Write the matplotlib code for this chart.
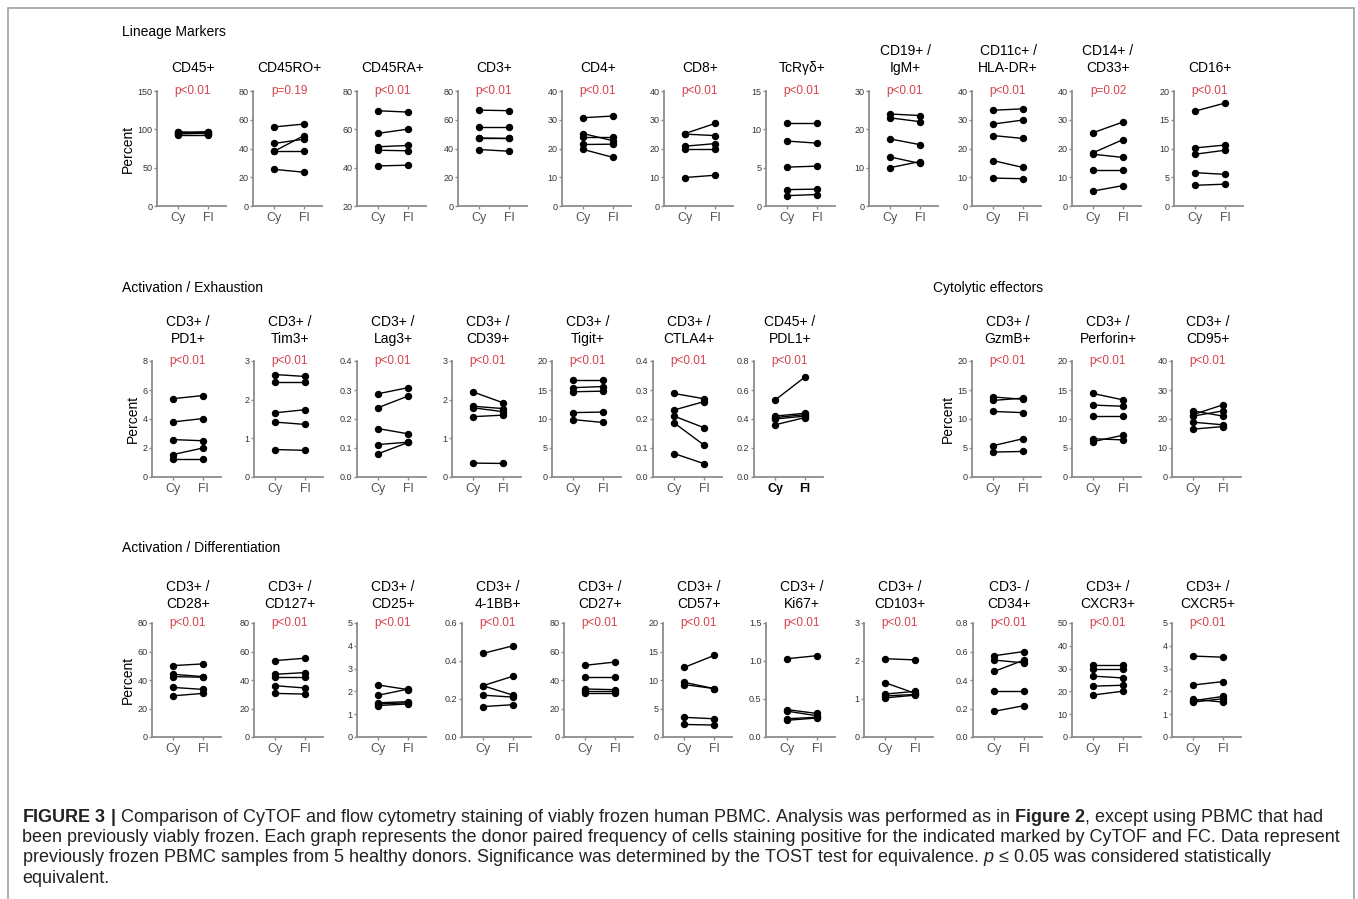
import matplotlib
matplotlib.use('Agg')
import matplotlib.pyplot as plt
from matplotlib.patches import Rectangle

plt.rcParams['font.family'] = ['Liberation Sans', 'DejaVu Sans']
plt.rcParams['mathtext.fontset'] = 'custom'
plt.rcParams['mathtext.rm'] = 'Liberation Sans'
plt.rcParams['mathtext.bf'] = 'Liberation Sans:bold'
plt.rcParams['mathtext.it'] = 'Liberation Sans:italic'

# ---- data (percent of cells, 5 donors: CyTOF vs flow) ----
# Lineage markers
cd45_cy = [97, 95, 94, 93, 96]
cd45_fl = [94, 96, 95, 93, 97]
cd45ro_cy = [55, 43.5, 38, 38, 25.5]
cd45ro_fl = [57, 46.5, 49, 38, 23.5]
cd45ra_cy = [69.7, 57.9, 50.9, 49.1, 40.9]
cd45ra_fl = [69.0, 60.1, 51.6, 48.8, 41.3]
cd3_cy = [66.7, 54.7, 47.3, 47.0, 39.3]
cd3_fl = [66.3, 54.7, 47.0, 47.0, 38.1]
cd4_cy = [30.7, 25.2, 24.1, 21.4, 19.7]
cd4_fl = [31.3, 22.7, 24.1, 21.5, 16.9]
cd8_cy = [25.2, 25.0, 20.8, 20.0, 9.9]
cd8_fl = [28.7, 24.5, 21.7, 20.0, 10.7]
tcrgd_cy = [10.8, 8.47, 5.07, 2.14, 1.35]
tcrgd_fl = [10.8, 8.2, 5.2, 2.2, 1.5]
cd19_cy = [24.0, 23.0, 17.5, 12.8, 10.0]
cd19_fl = [23.6, 22.0, 16.0, 11.1, 11.6]
cd11c_cy = [33.3, 28.5, 24.5, 15.8, 9.7]
cd11c_fl = [33.8, 29.9, 23.5, 13.4, 9.5]
cd14_cy = [25.5, 18.5, 18.0, 12.4, 5.2]
cd14_fl = [29.2, 23.1, 16.9, 12.4, 7.1]
cd16_cy = [16.5, 10.1, 9.0, 5.8, 3.6]
cd16_fl = [17.9, 10.6, 9.7, 5.5, 3.8]

# Activation / exhaustion
pd1_cy = [5.4, 3.8, 2.58, 1.55, 1.22]
pd1_fl = [5.62, 4.03, 2.5, 2.0, 1.22]
tim3_cy = [2.65, 2.45, 1.66, 1.42, 0.71]
tim3_fl = [2.6, 2.45, 1.74, 1.36, 0.69]
lag3_cy = [0.287, 0.239, 0.167, 0.112, 0.08]
lag3_fl = [0.308, 0.279, 0.149, 0.12, 0.119]
cd39_cy = [2.2, 1.83, 1.79, 1.56, 0.36]
cd39_fl = [1.92, 1.77, 1.69, 1.6, 0.35]
tigit_cy = [16.8, 15.4, 14.7, 11.1, 9.9]
tigit_fl = [16.8, 15.6, 14.8, 11.2, 9.4]
ctla4_cy = [0.288, 0.231, 0.21, 0.187, 0.081]
ctla4_fl = [0.27, 0.26, 0.17, 0.11, 0.046]
pdl1_cy = [0.53, 0.42, 0.41, 0.40, 0.36]
pdl1_fl = [0.69, 0.44, 0.43, 0.42, 0.41]

# Cytolytic effectors
gzmb_cy = [13.8, 13.2, 11.3, 5.4, 4.3]
gzmb_fl = [13.4, 13.6, 11.1, 6.6, 4.4]
perforin_cy = [14.4, 12.4, 10.6, 6.6, 6.1]
perforin_fl = [13.3, 12.2, 10.6, 6.4, 7.2]
cd95_cy = [22.8, 21.5, 21.0, 18.9, 16.5]
cd95_fl = [21.0, 24.9, 22.8, 18.0, 17.4]

# Activation / differentiation
cd28_cy = [50.1, 44.0, 42.4, 34.8, 28.9]
cd28_fl = [51.3, 42.4, 41.9, 33.4, 30.6]
cd127_cy = [53.6, 44.0, 42.4, 36.0, 30.6]
cd127_fl = [55.3, 45.2, 42.4, 34.4, 30.1]
cd25_cy = [2.28, 1.83, 1.5, 1.45, 1.38]
cd25_fl = [2.08, 2.1, 1.55, 1.5, 1.45]
bb41_cy = [0.44, 0.27, 0.27, 0.22, 0.16]
bb41_fl = [0.48, 0.32, 0.22, 0.21, 0.17]
cd27_cy = [50.3, 42.1, 33.7, 32.0, 30.9]
cd27_fl = [52.6, 42.1, 33.2, 32.0, 30.9]
cd57_cy = [12.2, 9.6, 9.2, 3.45, 2.2]
cd57_fl = [14.3, 8.5, 8.5, 3.2, 2.1]
ki67_cy = [1.03, 0.36, 0.34, 0.24, 0.22]
ki67_fl = [1.07, 0.31, 0.28, 0.26, 0.25]
cd103_cy = [2.06, 1.43, 1.13, 1.08, 1.03]
cd103_fl = [2.03, 1.15, 1.2, 1.12, 1.1]
cd34_cy = [0.57, 0.54, 0.46, 0.32, 0.18]
cd34_fl = [0.60, 0.52, 0.54, 0.32, 0.22]
cxcr3_cy = [31.6, 29.9, 26.7, 22.3, 18.4]
cxcr3_fl = [31.6, 29.9, 25.9, 22.7, 20.1]
cxcr5_cy = [3.55, 2.28, 1.66, 1.59, 1.53]
cxcr5_fl = [3.5, 2.43, 1.53, 1.78, 1.68]

# y axes
t150 = [0, 50, 100, 150]
t80 = [0, 20, 40, 60, 80]
t2080 = [20, 40, 60, 80]
t40 = [0, 10, 20, 30, 40]
t30 = [0, 10, 20, 30]
t20 = [0, 5, 10, 15, 20]
t15 = [0, 5, 10, 15]
t8 = [0, 2, 4, 6, 8]
t3 = [0, 1, 2, 3]
t04 = [0.0, 0.1, 0.2, 0.3, 0.4]
t08 = [0.0, 0.2, 0.4, 0.6, 0.8]
t06 = [0.0, 0.2, 0.4, 0.6]
t5 = [0, 1, 2, 3, 4, 5]
t50 = [0, 10, 20, 30, 40, 50]
t1_5 = [0.0, 0.5, 1.0, 1.5]

row1 = [
    ('CD45+', 'p<0.01', cd45_cy, cd45_fl, t150, '{:.0f}'),
    ('CD45RO+', 'p=0.19', cd45ro_cy, cd45ro_fl, t80, '{:.0f}'),
    ('CD45RA+', 'p<0.01', cd45ra_cy, cd45ra_fl, t2080, '{:.0f}'),
    ('CD3+', 'p<0.01', cd3_cy, cd3_fl, t80, '{:.0f}'),
    ('CD4+', 'p<0.01', cd4_cy, cd4_fl, t40, '{:.0f}'),
    ('CD8+', 'p<0.01', cd8_cy, cd8_fl, t40, '{:.0f}'),
    ('TcRγδ+', 'p<0.01', tcrgd_cy, tcrgd_fl, t15, '{:.0f}'),
    ('CD19+ /\nIgM+', 'p<0.01', cd19_cy, cd19_fl, t30, '{:.0f}'),
    ('CD11c+ /\nHLA-DR+', 'p<0.01', cd11c_cy, cd11c_fl, t40, '{:.0f}'),
    ('CD14+ /\nCD33+', 'p=0.02', cd14_cy, cd14_fl, t40, '{:.0f}'),
    ('CD16+', 'p<0.01', cd16_cy, cd16_fl, t20, '{:.0f}'),
]
row2 = [
    ('CD3+ /\nPD1+', 'p<0.01', pd1_cy, pd1_fl, t8, '{:.0f}'),
    ('CD3+ /\nTim3+', 'p<0.01', tim3_cy, tim3_fl, t3, '{:.0f}'),
    ('CD3+ /\nLag3+', 'p<0.01', lag3_cy, lag3_fl, t04, '{:.1f}'),
    ('CD3+ /\nCD39+', 'p<0.01', cd39_cy, cd39_fl, t3, '{:.0f}'),
    ('CD3+ /\nTigit+', 'p<0.01', tigit_cy, tigit_fl, t20, '{:.0f}'),
    ('CD3+ /\nCTLA4+', 'p<0.01', ctla4_cy, ctla4_fl, t04, '{:.1f}'),
    ('CD45+ /\nPDL1+', 'p<0.01', pdl1_cy, pdl1_fl, t08, '{:.1f}'),
    ('CD3+ /\nGzmB+', 'p<0.01', gzmb_cy, gzmb_fl, t20, '{:.0f}'),
    ('CD3+ /\nPerforin+', 'p<0.01', perforin_cy, perforin_fl, t20, '{:.0f}'),
    ('CD3+ /\nCD95+', 'p<0.01', cd95_cy, cd95_fl, t40, '{:.0f}'),
]
row3 = [
    ('CD3+ /\nCD28+', 'p<0.01', cd28_cy, cd28_fl, t80, '{:.0f}'),
    ('CD3+ /\nCD127+', 'p<0.01', cd127_cy, cd127_fl, t80, '{:.0f}'),
    ('CD3+ /\nCD25+', 'p<0.01', cd25_cy, cd25_fl, t5, '{:.0f}'),
    ('CD3+ /\n4-1BB+', 'p<0.01', bb41_cy, bb41_fl, t06, '{:.1f}'),
    ('CD3+ /\nCD27+', 'p<0.01', cd27_cy, cd27_fl, t80, '{:.0f}'),
    ('CD3+ /\nCD57+', 'p<0.01', cd57_cy, cd57_fl, t20, '{:.0f}'),
    ('CD3+ /\nKi67+', 'p<0.01', ki67_cy, ki67_fl, t1_5, '{:.1f}'),
    ('CD3+ /\nCD103+', 'p<0.01', cd103_cy, cd103_fl, t3, '{:.0f}'),
    ('CD3- /\nCD34+', 'p<0.01', cd34_cy, cd34_fl, t08, '{:.1f}'),
    ('CD3+ /\nCXCR3+', 'p<0.01', cxcr3_cy, cxcr3_fl, t50, '{:.0f}'),
    ('CD3+ /\nCXCR5+', 'p<0.01', cxcr5_cy, cxcr5_fl, t5, '{:.0f}'),
]

# ---- layout in pixels ----
W, H = 1358, 899
RED = '#d4434e'
GREY = '#8c8c8c'
row1_x = [178, 274, 378, 479, 583, 685, 787, 890, 993, 1093, 1195]
row2_x = [173, 275, 378, 473, 573, 674, 775, 993, 1093, 1193]
row3_x = [173, 275, 378, 483, 585, 684, 787, 885, 994, 1093, 1193]
rows = [(row1, row1_x, 91, 206, 72, [0]),
        (row2, row2_x, 361, 477, 343, [0, 7]),
        (row3, row3_x, 623, 737, 608, [0])]

fig = plt.figure(figsize=(W / 100, H / 100), dpi=100)


def draw_panel(cx, top, bottom, base, spec, percent):
    title, pval, cy, fl, ticks, fmt = spec
    ax = fig.add_axes([(cx - 21) / W, 1 - bottom / H, 69 / W, (bottom - top) / H])
    for a, b in zip(cy, fl):
        ax.plot([0, 1], [a, b], color='black', lw=1, marker='o', ms=4.3,
                clip_on=False)
    ax.set_xlim(-0.7, 1.6)
    ax.set_ylim(ticks[0], ticks[-1])
    ax.set_yticks(ticks)
    ax.set_yticklabels([fmt.format(t) for t in ticks])
    ax.set_xticks([0, 1])
    ax.set_xticklabels(['Cy', 'Fl'])
    for s in ['top', 'right']:
        ax.spines[s].set_visible(False)
    for s in ['left', 'bottom']:
        ax.spines[s].set_color(GREY)
        ax.spines[s].set_linewidth(1.3)
    ax.tick_params(axis='y', length=2.5, width=1, color=GREY, pad=0.8,
                   labelsize=6.5, labelcolor='#333333')
    ax.tick_params(axis='x', length=2.5, width=1, color=GREY, pad=1.5,
                   labelsize=9, labelcolor='#555555')
    if title.startswith('CD45+ /'):
        for lab in ax.get_xticklabels():
            lab.set_fontweight('bold')
            lab.set_color('black')
    ax.text(0.5, ticks[-1], pval, color=RED, fontsize=8.5, ha='center', va='center')
    fig.text((cx + 15) / W, 1 - base / H, title, ha='center', va='baseline',
             fontsize=10, linespacing=1.3, multialignment='center')
    if percent:
        ax.set_ylabel('Percent', fontsize=10, labelpad=2)


for specs, xs, top, bottom, base, pct in rows:
    for i, (spec, cx) in enumerate(zip(specs, xs)):
        draw_panel(cx, top, bottom, base, spec, i in pct)

# section headers
for txt, x, y in [('Lineage Markers', 122, 32),
                  ('Activation / Exhaustion', 122, 288),
                  ('Cytolytic effectors', 933, 288),
                  ('Activation / Differentiation', 122, 548)]:
    fig.text(x / W, 1 - y / H, txt, fontsize=10, ha='left', va='center')

# caption
caption = [
    r'$\bf{FIGURE\ 3\ |}$ Comparison of CyTOF and flow cytometry staining of viably frozen human PBMC. '
    r'Analysis was performed as in $\bf{Figure\ 2}$, except using PBMC that had',
    'been previously viably frozen. Each graph represents the donor paired frequency of cells '
    'staining positive for the indicated marked by CyTOF and FC. Data represent',
    'previously frozen PBMC samples from 5 healthy donors. Significance was determined by the '
    'TOST test for equivalence. $\\it{p}$ ≤ 0.05 was considered statistically',
    'equivalent.',
]
for k, line in enumerate(caption):
    fig.text(22 / W, 1 - (817 + 20.5 * k) / H, line, fontsize=13, ha='left', va='center',
             color='#222222')

fig.patches.append(Rectangle((8 / W, -0.01), (1354 - 8) / W, 1 - 8 / H + 0.01,
                             transform=fig.transFigure, fill=False,
                             edgecolor='#a0a0a0', lw=1.2))

fig.savefig('out.png', dpi=100)
